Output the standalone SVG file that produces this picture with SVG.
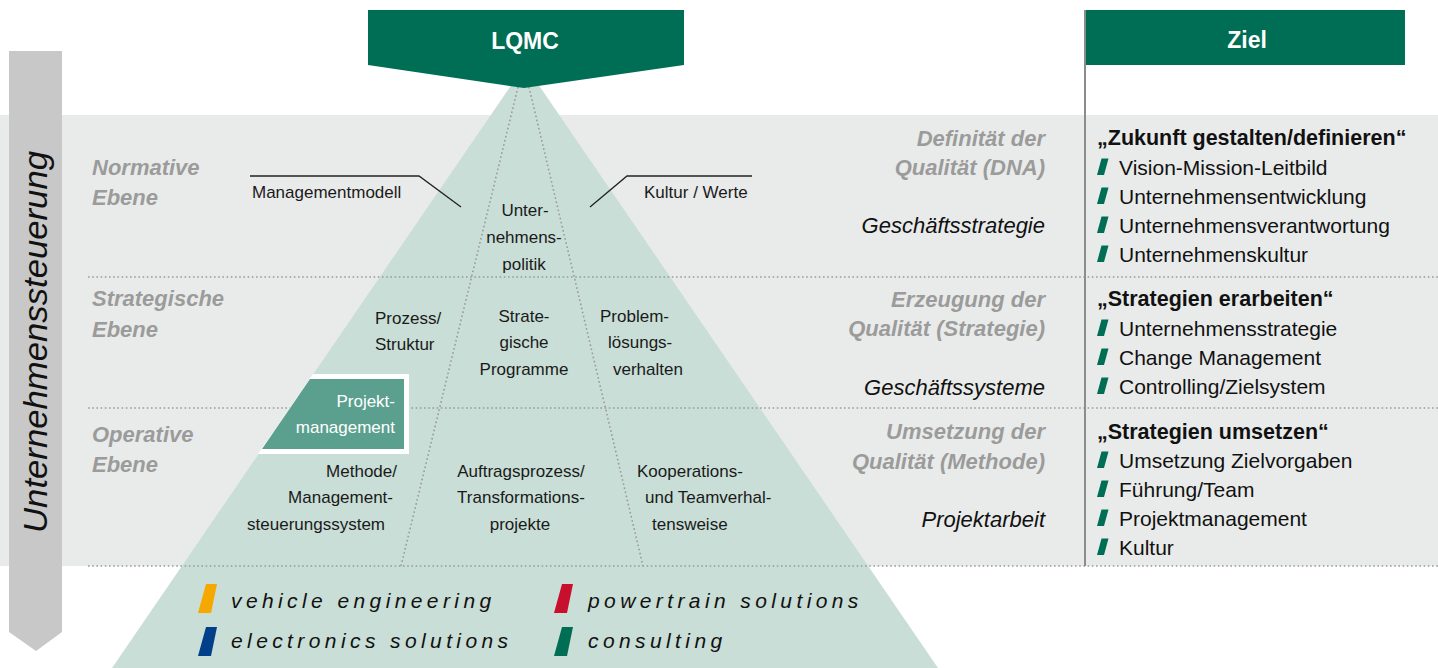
<svg xmlns="http://www.w3.org/2000/svg" width="1438" height="668" viewBox="0 0 1438 668">
<defs>
<style>
text{font-family:"Liberation Sans",Arial,sans-serif;}
.dot{stroke:#9a9a9a;stroke-width:1.6;stroke-dasharray:1.6 2.6;fill:none;}
.lvl{font-size:22px;font-weight:bold;font-style:italic;fill:#9b9b9b;}
.mid{font-size:22px;font-style:italic;fill:#111;text-anchor:end;}
.midg{font-size:22px;font-weight:bold;font-style:italic;fill:#9b9b9b;text-anchor:end;}
.pl{font-size:17px;fill:#1a1a1a;}
.hd{font-size:21.5px;font-weight:bold;fill:#111;}
.it{font-size:21px;fill:#111;}
.bul{fill:#006e55;}
.leg{font-size:21px;font-style:italic;fill:#111;letter-spacing:4.4px;}
.lead{stroke:#222;stroke-width:1.3;fill:none;}
.ban{fill:#006e55;}
.bantx{font-size:23px;font-weight:bold;fill:#fff;text-anchor:middle;}
</style>
<polygon id="b" points="4.5,-16.5 11.5,-16.5 7,0 0,0"/>
<polygon id="lb" points="8,0 19,0 13,29 0,29"/>
</defs>

<!-- background band -->
<rect x="0" y="115" width="1438" height="451" fill="#e9ebea"/>

<!-- pyramid -->
<g id="pyramid">
<polygon points="525,65 938,668 112,668" fill="#c9ded6"/>
</g>

<!-- left arrow -->
<g id="steuerung">
<polygon points="9,51 62,51 62,632 36,651 9,632" fill="#c8c8c8"/>
<text transform="translate(47,342) rotate(-90)" text-anchor="middle" font-size="34" font-style="italic" fill="#111" textLength="382" lengthAdjust="spacingAndGlyphs">Unternehmenssteuerung</text>
</g>

<!-- dotted division lines -->
<g id="dividers">
<line class="dot" x1="88" y1="277" x2="1438" y2="277"/>
<line class="dot" x1="88" y1="408" x2="1438" y2="408"/>
<line class="dot" x1="88" y1="566" x2="1438" y2="566"/>
<line class="dot" x1="518" y1="87" x2="401" y2="566"/>
<line class="dot" x1="529" y1="87" x2="643" y2="566"/>
</g>

<!-- LQMC banner -->
<g id="lqmc">
<polygon class="ban" points="368,10 684,10 684,65 524,88 368,65"/>
<text class="bantx" x="525" y="49">LQMC</text>
</g>

<!-- Ziel header and divider -->
<g id="ziel">
<line x1="1085" y1="10" x2="1085" y2="566" stroke="#8c8c8c" stroke-width="2"/>
<rect class="ban" x="1086" y="10" width="319" height="55"/>
<text class="bantx" x="1247" y="48">Ziel</text>
</g>

<!-- level labels -->
<g id="levels">
<text class="lvl" x="92" y="175">Normative</text>
<text class="lvl" x="92" y="205">Ebene</text>
<text class="lvl" x="92" y="306">Strategische</text>
<text class="lvl" x="92" y="337">Ebene</text>
<text class="lvl" x="92" y="442">Operative</text>
<text class="lvl" x="92" y="472">Ebene</text>
</g>

<!-- connectors (leader lines) -->
<g id="connectors">
<polyline class="lead" points="250,176 419,176 461,207"/>
<polyline class="lead" points="752,176 627,176 590,207"/>
</g>

<!-- pyramid labels -->
<g id="managementmodell"><text class="pl" x="252" y="198">Managementmodell</text></g>
<g id="kultur-werte"><text class="pl" x="644" y="198">Kultur / Werte</text></g>
<g id="unternehmenspolitik" text-anchor="middle">
<text class="pl" x="525" y="216">Unter-</text>
<text class="pl" x="524" y="243">nehmens-</text>
<text class="pl" x="524" y="270">politik</text>
</g>
<g id="prozess">
<text class="pl" x="375" y="324">Prozess/</text>
<text class="pl" x="375" y="350">Struktur</text>
</g>
<g id="programme" text-anchor="middle">
<text class="pl" x="524" y="322">Strate-</text>
<text class="pl" x="524" y="348">gische</text>
<text class="pl" x="524" y="375">Programme</text>
</g>
<g id="problem">
<text class="pl" x="600" y="322">Problem-</text>
<text class="pl" x="608" y="348">lösungs-</text>
<text class="pl" x="613" y="375">verhalten</text>
</g>
<g id="projektmanagement">
<polygon points="313,374 409,374 409,454 258,454" fill="#ffffff"/>
<polygon points="310,379 404,379 404,449 262,449" fill="#5b9f8f"/>
<text class="pl" x="395" y="407" text-anchor="end" style="fill:#fff">Projekt-</text>
<text class="pl" x="395" y="433" text-anchor="end" style="fill:#fff">management</text>
</g>
<g id="methode" text-anchor="end">
<text class="pl" x="397" y="477">Methode/</text>
<text class="pl" x="393" y="503">Management-</text>
<text class="pl" x="385" y="530">steuerungssystem</text>
</g>
<g id="auftrag" text-anchor="middle">
<text class="pl" x="521" y="477">Auftragsprozess/</text>
<text class="pl" x="521" y="503">Transformations-</text>
<text class="pl" x="520" y="530">projekte</text>
</g>
<g id="kooperation">
<text class="pl" x="637" y="477">Kooperations-</text>
<text class="pl" x="645" y="503">und Teamverhal-</text>
<text class="pl" x="652" y="530">tensweise</text>
</g>

<!-- middle column -->
<g id="qualitaet-dna">
<text class="midg" x="1045" y="146">Definität der</text>
<text class="midg" x="1045" y="175">Qualität (DNA)</text>
<text class="mid" x="1045" y="233">Geschäftsstrategie</text>
</g>
<g id="qualitaet-strategie">
<text class="midg" x="1045" y="307">Erzeugung der</text>
<text class="midg" x="1045" y="336">Qualität (Strategie)</text>
<text class="mid" x="1045" y="395">Geschäftssysteme</text>
</g>
<g id="qualitaet-methode">
<text class="midg" x="1045" y="439">Umsetzung der</text>
<text class="midg" x="1045" y="469">Qualität (Methode)</text>
<text class="mid" x="1045" y="527">Projektarbeit</text>
</g>

<!-- right column -->
<g id="ziel-zukunft">
<text class="hd" x="1097" y="145">„Zukunft gestalten/definieren“</text>
<use href="#b" class="bul" x="1097" y="175"/><text class="it" x="1119" y="175">Vision-Mission-Leitbild</text>
<use href="#b" class="bul" x="1097" y="204"/><text class="it" x="1119" y="204">Unternehmensentwicklung</text>
<use href="#b" class="bul" x="1097" y="233"/><text class="it" x="1119" y="233">Unternehmensverantwortung</text>
<use href="#b" class="bul" x="1097" y="262"/><text class="it" x="1119" y="262">Unternehmenskultur</text>
</g>
<g id="ziel-erarbeiten">
<text class="hd" x="1097" y="306">„Strategien erarbeiten“</text>
<use href="#b" class="bul" x="1097" y="336"/><text class="it" x="1119" y="336">Unternehmensstrategie</text>
<use href="#b" class="bul" x="1097" y="365"/><text class="it" x="1119" y="365">Change Management</text>
<use href="#b" class="bul" x="1097" y="394"/><text class="it" x="1119" y="394">Controlling/Zielsystem</text>
</g>
<g id="ziel-umsetzen">
<text class="hd" x="1097" y="439">„Strategien umsetzen“</text>
<use href="#b" class="bul" x="1097" y="468"/><text class="it" x="1119" y="468">Umsetzung Zielvorgaben</text>
<use href="#b" class="bul" x="1097" y="497"/><text class="it" x="1119" y="497">Führung/Team</text>
<use href="#b" class="bul" x="1097" y="526"/><text class="it" x="1119" y="526">Projektmanagement</text>
<use href="#b" class="bul" x="1097" y="555"/><text class="it" x="1119" y="555">Kultur</text>
</g>

<!-- legend -->
<g id="legend">
<use href="#lb" x="198" y="584" fill="#f5a800"/>
<text class="leg" x="231" y="608">vehicle engineering</text>
<use href="#lb" x="198" y="627" fill="#003f8a"/>
<text class="leg" x="231" y="648">electronics solutions</text>
<use href="#lb" x="554" y="584" fill="#c8102e"/>
<text class="leg" x="588" y="608">powertrain solutions</text>
<use href="#lb" x="554" y="627" fill="#006e55"/>
<text class="leg" x="588" y="648">consulting</text>
</g>
</svg>
